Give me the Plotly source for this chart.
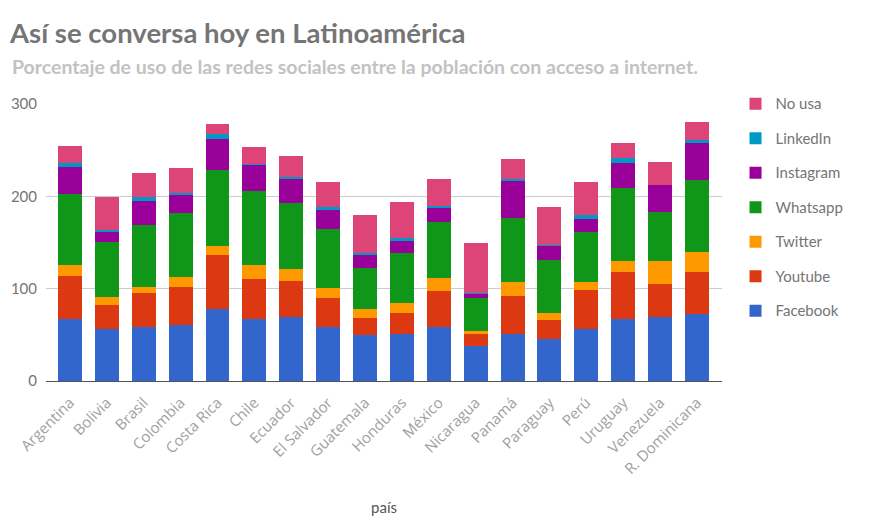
import plotly.graph_objects as go

paises = ["Argentina", "Bolivia", "Brasil", "Colombia", "Costa Rica", "Chile", "Ecuador",
          "El Salvador", "Guatemala", "Honduras", "México", "Nicaragua", "Panamá", "Paraguay",
          "Perú", "Uruguay", "Venezuela", "R. Dominicana"]

facebook  = [67, 56, 59, 61, 78, 67, 69, 59, 50, 51, 58, 38, 51, 46, 56, 67, 69, 72.5]
youtube   = [47, 26, 36, 41, 58, 44, 39, 31, 18, 23, 39, 13, 41, 20, 43, 51, 36, 45.5]
twitter   = [12, 8.5, 7, 11, 10, 15, 13, 11, 10, 10, 14.5, 3, 15, 8, 8, 12, 24.5, 21.5]
whatsapp  = [77, 60.5, 67, 69, 83, 80, 72, 64, 44, 55, 60.5, 36, 70, 57, 54, 79, 54, 78]
instagram = [29, 11, 26, 20, 33, 28, 26, 21, 15, 13, 16, 5, 40.5, 16, 14.5, 27.5, 29, 40.5]
linkedin  = [4, 2, 4.5, 1.5, 5, 1.5, 2, 2, 2, 3, 2, 0.5, 1.5, 0.3, 4.5, 4.5, 0.3, 3.5]
no_usa    = [19, 35.5, 26, 27.5, 11.5, 18, 23, 27.5, 40.5, 39, 29, 54, 21.5, 41, 36, 16.5, 24.5, 19]

series = [
    ("Facebook", facebook, "#3366cc"),
    ("Youtube", youtube, "#dc3912"),
    ("Twitter", twitter, "#ff9900"),
    ("Whatsapp", whatsapp, "#109618"),
    ("Instagram", instagram, "#990099"),
    ("LinkedIn", linkedin, "#0099c6"),
    ("No usa", no_usa, "#dd4477"),
]

fig = go.Figure()
n = len(series)
for i, (name, vals, color) in enumerate(series):
    fig.add_trace(go.Bar(x=paises, y=vals, name=name, marker_color=color,
                         marker_line_width=0, legendgroup=name, legendrank=n - i))

fig.update_layout(
    width=875, height=523,
    barmode="stack", bargap=0.35,
    plot_bgcolor="white", paper_bgcolor="white",
    margin=dict(l=46, r=153, t=104, b=142),
    font=dict(family="Lato, Open Sans, sans-serif", color="#757575"),
    title=dict(text="<b>Así se conversa hoy en Latinoamérica</b>",
               x=10/875, xanchor="left", y=1-33/523, yanchor="middle", yref="container",
               font=dict(size=27.5, color="#757575", family="Lato, sans-serif")),
    annotations=[
        dict(text="<b>Porcentaje de uso de las redes sociales entre la población con acceso a internet.</b>",
             xref="paper", yref="paper", x=-36/676, y=1 + 37/277, xanchor="left", yanchor="middle",
             showarrow=False, font=dict(size=19.5, color="#c2c2c2", family="Lato, sans-serif")),
    ],
    legend=dict(x=1.02, xanchor="left", y=1.06, yanchor="top", traceorder="grouped",
                tracegroupgap=12, font=dict(size=15, color="#757575"), itemwidth=30),
    xaxis=dict(title=dict(text="país", font=dict(size=15, color="#555555"), standoff=25),
               automargin=False,
               range=[-0.65, 17.68],
               tickangle=-45, tickfont=dict(size=15, color="#a0a0a0", family="Open Sans, sans-serif"),
               ticklabelstandoff=6,
               showgrid=False, showline=True, linecolor="#555555", linewidth=1, ticks=""),
    yaxis=dict(range=[0, 300], tickvals=[0, 100, 200, 300], gridcolor="#cccccc", automargin=False,
               tickfont=dict(size=15, color="#757575"), zeroline=False, showline=False, ticks="",
               ticklabelstandoff=8),
)

fig.write_html("out.html")
